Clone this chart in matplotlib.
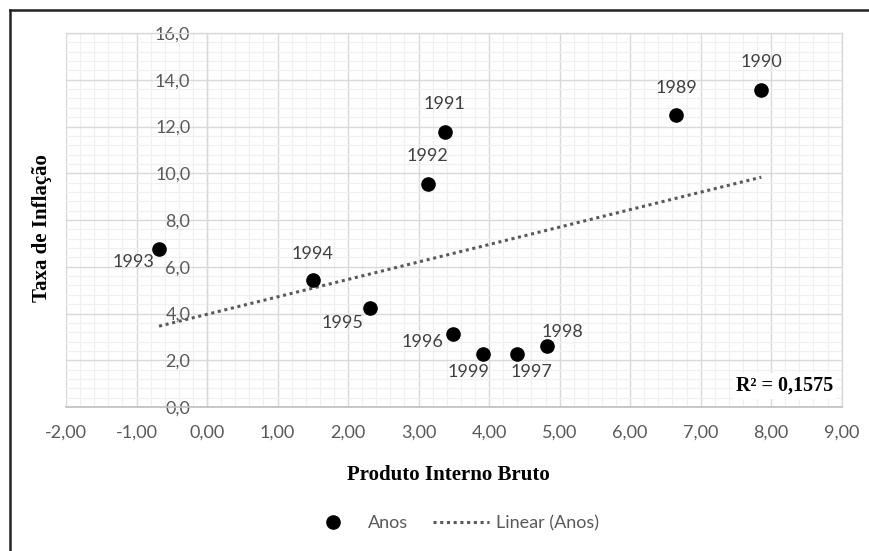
import matplotlib
matplotlib.use("Agg")
import matplotlib.pyplot as plt
import numpy as np
from matplotlib.ticker import MultipleLocator, FuncFormatter
from matplotlib.lines import Line2D

years = ["1989", "1990", "1991", "1992", "1993", "1994", "1995", "1996", "1997", "1998", "1999"]
pib = [6.65, 7.86, 3.38, 3.13, -0.68, 1.50, 2.31, 3.49, 4.40, 4.82, 3.91]
inflacao = [12.49, 13.56, 11.76, 9.54, 6.76, 5.43, 4.24, 3.12, 2.27, 2.61, 2.27]
r2_text = "R² = 0,1575"

label_offsets = {
    "1989": (0, 27), "1990": (0, 28), "1991": (-1, 28), "1992": (0, 28),
    "1993": (-26, -13), "1994": (0, 26), "1995": (-27, -15), "1996": (-31, -8),
    "1997": (14, -18), "1998": (15, 14), "1999": (-14, -18),
}

sans = ["Lato", "DejaVu Sans"]
serif = ["Liberation Serif", "DejaVu Serif"]
tick_color = "#595959"
fs = 13

fig = plt.figure(figsize=(8.7, 5.51), dpi=100)
ax = fig.add_axes([66 / 870, 1 - 407 / 551, (841.7 - 66) / 870, (407 - 33) / 551])

ax.set_xlim(-2, 9)
ax.set_ylim(0, 16)
ax.xaxis.set_major_locator(MultipleLocator(1))
ax.xaxis.set_minor_locator(MultipleLocator(0.2))
ax.yaxis.set_major_locator(MultipleLocator(2))
ax.yaxis.set_minor_locator(MultipleLocator(0.4))
ax.grid(which="major", color="#d9d9d9", linewidth=1.0, zorder=0)
ax.grid(which="minor", color="#f0f0f0", linewidth=0.9, zorder=0)
ax.set_axisbelow(True)

for s in ["top", "right"]:
    ax.spines[s].set_color("#d9d9d9")
    ax.spines[s].set_linewidth(1.0)
ax.spines["bottom"].set_color("#bfbfbf")
ax.spines["bottom"].set_linewidth(1.2)
ax.spines["left"].set_position(("data", 0))
ax.spines["left"].set_color("#d9d9d9")
ax.spines["left"].set_linewidth(1.0)

ax.xaxis.set_major_formatter(FuncFormatter(lambda v, p: f"{v:.2f}".replace(".", ",")))
ax.yaxis.set_major_formatter(FuncFormatter(lambda v, p: f"{v:.1f}".replace(".", ",")))
ax.tick_params(which="both", length=0)
ax.tick_params(axis="x", pad=13, labelsize=fs, labelcolor=tick_color)
ax.tick_params(axis="y", pad=12, labelsize=fs, labelcolor=tick_color)
for lab in ax.get_xticklabels() + ax.get_yticklabels():
    lab.set_family(sans)

# scatter
ax.plot(pib, inflacao, "o", color="black", markersize=9.5, zorder=5, label="Anos")

# linear trend
coef = np.polyfit(pib, inflacao, 1)
xs = np.array([min(pib), max(pib)])
ax.plot(xs, np.polyval(coef, xs), linestyle=(0, (1, 1.2)), color="#595959",
        linewidth=2.2, zorder=4, label="Linear (Anos)")

for yr, x, y in zip(years, pib, inflacao):
    dx, dy = label_offsets[yr]
    ax.annotate(yr, (x, y), xytext=(dx, dy), textcoords="offset pixels",
                ha="center", va="center", fontsize=fs, color="#404040",
                family=sans, zorder=6)

ax.text(0.9885, 0.056, r2_text, transform=ax.transAxes, ha="right", va="center",
        fontsize=14.5, fontweight="bold", family=serif, color="black",
        bbox=dict(facecolor="white", edgecolor="none", pad=2), zorder=7)

fig.text(448 / 870, 1 - 475 / 551, "Produto Interno Bruto", ha="center", va="center",
         fontsize=15, fontweight="bold", family=serif)
fig.text(42 / 870, 1 - 228 / 551, "Taxa de Inflação", ha="center", va="center",
         rotation=90, fontsize=15, fontweight="bold", family=serif)

handles = [
    Line2D([], [], marker="o", color="black", linestyle="none", markersize=9.5),
    Line2D([], [], linestyle=(0, (1, 1.2)), color="#595959", linewidth=2.2),
]
leg = fig.legend(handles, ["Anos", "Linear (Anos)"], loc="center",
                 bbox_to_anchor=(452 / 870, 1 - 523 / 551), ncol=2, frameon=False,
                 prop={"family": sans, "size": fs}, handlelength=3.1,
                 columnspacing=1.4, handletextpad=0.4)
for t in leg.get_texts():
    t.set_color(tick_color)

# outer chart border (top and left visible)
fig.add_artist(Line2D([10 / 870, 1.0], [1 - 10 / 551, 1 - 10 / 551],
                      transform=fig.transFigure, color="#222222", linewidth=1.8))
fig.add_artist(Line2D([10 / 870, 10 / 870], [0.0, 1 - 10 / 551],
                      transform=fig.transFigure, color="#222222", linewidth=1.8))

fig.savefig("out.png", dpi=100)
